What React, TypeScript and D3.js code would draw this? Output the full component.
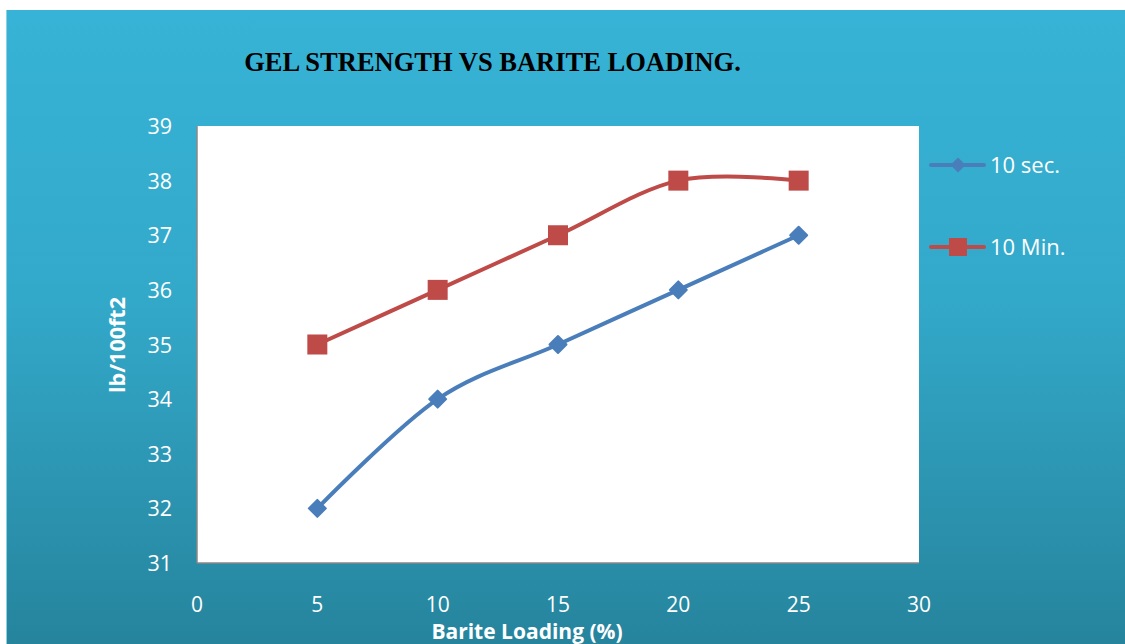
import React from "react";
import * as d3 from "d3";

const xValues = [5, 10, 15, 20, 25];
const sec10 = [32, 34, 35, 36, 37];
const min10 = [35, 36, 37, 38, 38];
const xTicks = [0, 5, 10, 15, 20, 25, 30];
const yTicks = [31, 32, 33, 34, 35, 36, 37, 38, 39];
const seriesNames = ["10 sec.", "10 Min."];

const W = 1125;
const H = 644;
const plot = { left: 197, right: 919, top: 126, bottom: 563 };
const font = "'Open Sans', 'Liberation Sans', sans-serif";

export default function App() {
  const x = d3.scaleLinear().domain([0, 30]).range([plot.left, plot.right]);
  const y = d3.scaleLinear().domain([31, 39]).range([plot.bottom, plot.top]);
  const line = d3
    .line<number>()
    .x((_, i) => x(xValues[i]))
    .y((d) => y(d))
    .curve(d3.curveCatmullRom.alpha(0));
  const blue = "#4a7ebb";
  const red = "#be4b48";
  const diamond = (cx: number, cy: number, r: number) =>
    `M${cx},${cy - r}L${cx + r},${cy}L${cx},${cy + r}L${cx - r},${cy}Z`;

  return (
    <svg
      width={W}
      height={H}
      style={{ position: "absolute", left: 0, top: 0, display: "block" }}
    >
      <defs>
        <linearGradient id="bg" x1="0" y1="0" x2="0" y2="1">
          <stop offset="0%" stopColor="#36b3d6" />
          <stop offset="45%" stopColor="#33a9ca" />
          <stop offset="100%" stopColor="#26849d" />
        </linearGradient>
      </defs>
      <rect x={0} y={0} width={W} height={H} fill="#ffffff" />
      <rect x={6} y={10} width={W - 6} height={H - 10} fill="url(#bg)" />
      <line x1={6.5} y1={10} x2={6.5} y2={H} stroke="#8fcfe2" strokeWidth={1} />
      <text
        x={492.5}
        y={71}
        textAnchor="middle"
        fontFamily="'Liberation Serif', 'Times New Roman', serif"
        fontWeight="bold"
        fontSize={26.5}
        fill="#000"
      >
        GEL STRENGTH VS BARITE LOADING.
      </text>
      <rect
        x={plot.left}
        y={plot.top}
        width={plot.right - plot.left}
        height={plot.bottom - plot.top}
        fill="#ffffff"
      />
      <line x1={plot.left} y1={plot.top} x2={plot.left} y2={plot.bottom} stroke="#888" strokeWidth={1.5} />
      <line x1={plot.left} y1={plot.bottom} x2={plot.right} y2={plot.bottom} stroke="#888" strokeWidth={1.5} />
      {yTicks.map((t) => (
        <text
          key={"y" + t}
          x={172}
          y={y(t) + 8}
          textAnchor="end"
          fontFamily={font}
          fontSize={21.5}
          fill="#fff"
        >
          {t}
        </text>
      ))}
      {xTicks.map((t) => (
        <text
          key={"x" + t}
          x={x(t)}
          y={611.5}
          textAnchor="middle"
          fontFamily={font}
          fontSize={21}
          fill="#fff"
        >
          {t}
        </text>
      ))}
      <text
        x={527}
        y={639}
        textAnchor="middle"
        fontFamily={font}
        fontWeight="bold"
        fontSize={21}
        fill="#fff"
      >
        Barite Loading (%)
      </text>
      <text
        transform={`translate(125,345) rotate(-90)`}
        textAnchor="middle"
        fontFamily={font}
        fontWeight="bold"
        fontSize={21.5}
        fill="#fff"
      >
        lb/100ft2
      </text>
      <path d={line(sec10) || ""} fill="none" stroke={blue} strokeWidth={4} strokeLinecap="round" />
      <path d={line(min10) || ""} fill="none" stroke={red} strokeWidth={4} strokeLinecap="round" />
      {sec10.map((v, i) => (
        <path
          key={"b" + i}
          d={diamond(x(xValues[i]), y(v), 8.5)}
          fill={blue}
          stroke={blue}
          strokeWidth={2}
          strokeLinejoin="round"
        />
      ))}
      {min10.map((v, i) => (
        <rect key={"r" + i} x={x(xValues[i]) - 10} y={y(v) - 10} width={20} height={20} fill={red} />
      ))}
      {/* legend */}
      <line x1={931} y1={165} x2={984} y2={165} stroke={blue} strokeWidth={4} strokeLinecap="round" />
      <path d={diamond(958, 165, 6.5)} fill={blue} stroke={blue} strokeWidth={1.5} strokeLinejoin="round" />
      <text x={990} y={173} fontFamily={font} fontSize={22} fill="#fff">
        {seriesNames[0]}
      </text>
      <line x1={931} y1={247} x2={984} y2={247} stroke={red} strokeWidth={4} strokeLinecap="round" />
      <rect x={949} y={238} width={18} height={18} fill={red} />
      <text x={990} y={255} fontFamily={font} fontSize={22} fill="#fff">
        {seriesNames[1]}
      </text>
    </svg>
  );
}
